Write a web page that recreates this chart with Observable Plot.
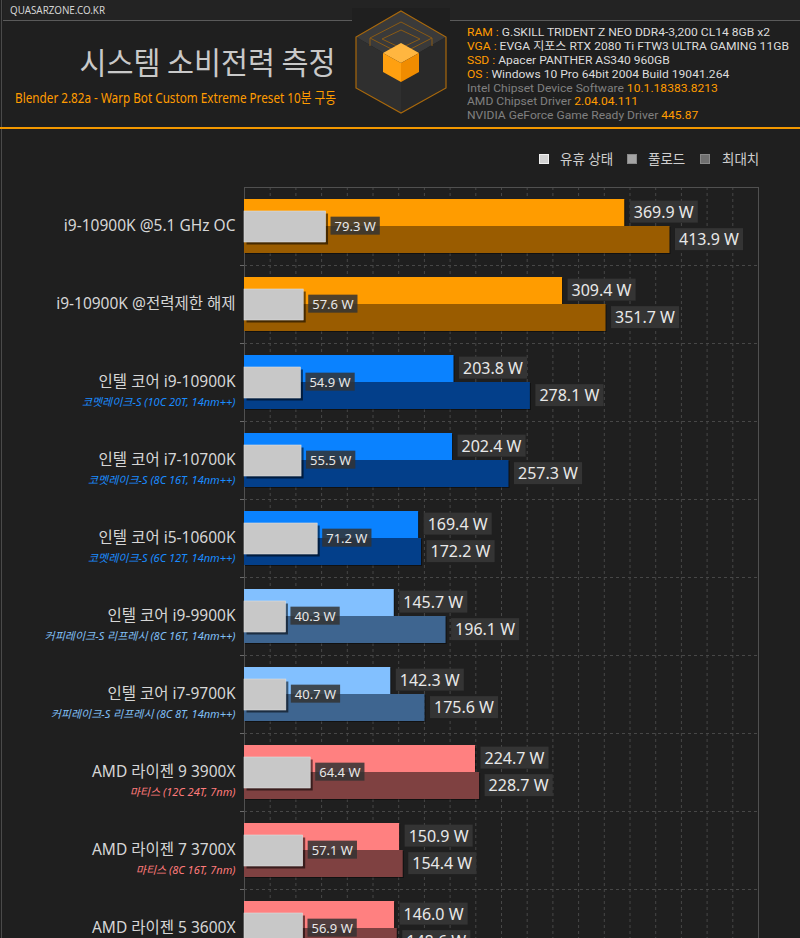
<!DOCTYPE html>
<html><head><meta charset="utf-8">
<script src="https://cdn.jsdelivr.net/npm/d3@7"></script>
<script src="https://cdn.jsdelivr.net/npm/@observablehq/plot@0.6"></script>
<style>
html,body{margin:0;padding:0;background:#1f1f1f;}
#page{position:relative;width:800px;height:938px;overflow:hidden;background:#1f1f1f;font-family:"Noto Sans","Noto Sans CJK KR",sans-serif;}
.abs{position:absolute;white-space:nowrap;}
#strip{left:3px;top:0;width:797px;height:20px;background:#232323;}
#brand{left:10px;top:0;font-size:11px;line-height:20px;color:#d4d4d4;transform-origin:left center;}
#title{right:464px;top:43px;font-size:31px;line-height:36px;color:#c9c9c9;font-weight:400;font-family:"Noto Sans CJK KR","Noto Sans",sans-serif;transform-origin:right center;}
#subtitle{right:464px;top:88px;font-size:15px;line-height:18px;color:#ff9c00;transform-origin:right center;}
#info{left:467px;top:26px;font-size:11.8px;color:#dcdcdc;font-family:Roboto,"Noto Sans CJK KR",sans-serif;}
#info div{height:13.9px;line-height:13.9px;transform-origin:left center;}
#info .k{color:#ff9c00;}
#info .g{color:#808080;}
#info .o{color:#ff9c00;}
#orange{left:0;top:127px;width:800px;height:2px;background:#f39800;}
#leftborder{left:1px;top:0;width:1px;height:938px;background:#4a4a4a;}
.sq{position:absolute;width:10px;height:10px;top:154px;box-sizing:border-box;}
.lt{position:absolute;top:150px;font-size:13.5px;line-height:18px;color:#cfcfcf;}
#chart{position:absolute;left:0;top:175px;}
</style></head><body>
<div id="page">
  <div id="leftborder" class="abs"></div>
  <div id="strip" class="abs"></div>
  <div id="brand" class="abs">QUASARZONE.CO.KR</div>
  <svg class="abs" style="left:0;top:0" width="800" height="130">
    <line x1="3" x2="800" y1="20.5" y2="20.5" stroke="#5a5a5a" stroke-width="1"/>
    <rect x="352" y="8" width="98" height="110" fill="#1f1f1f"/>
    <polygon points="401,11 446,37 401,63 356,37" fill="#3a3a3a"/>
    <polygon points="356,37 401,63 401,113 356,88" fill="#2f2f2f"/>
    <polygon points="446,37 446,88 401,113 401,63" fill="#292929"/>
    <polygon points="401,11 446,37 446,88 401,113 356,88 356,37" fill="none" stroke="#a8680c" stroke-width="1.2"/>
    <polygon points="401,22 432,38 401,54 370,38" fill="none" stroke="#8a5a14" stroke-width="1"/>
    <polygon points="401,30 420,39 401,48 382,39" fill="none" stroke="#8a5a14" stroke-width="1"/>
    <line x1="370" y1="38" x2="370" y2="46" stroke="#8a5a14"/>
    <line x1="432" y1="38" x2="432" y2="46" stroke="#8a5a14"/>
    <polygon points="401,43 419,53 401,63 383,53" fill="#ffb640"/>
    <polygon points="383,53 401,63 401,82 383,72" fill="#ffa010"/>
    <polygon points="419,53 419,72 401,82 401,63" fill="#f08c00"/>
  </svg>
  <div id="title" class="abs">시스템 소비전력 측정</div>
  <div id="subtitle" class="abs">Blender 2.82a - Warp Bot Custom Extreme Preset 10분 구동</div>
  <div id="info" class="abs">
    <div><span class="k">RAM : </span>G.SKILL TRIDENT Z NEO DDR4-3,200 CL14 8GB x2</div>
    <div><span class="k">VGA : </span>EVGA 지포스 RTX 2080 Ti FTW3 ULTRA GAMING 11GB</div>
    <div><span class="k">SSD : </span>Apacer PANTHER AS340 960GB</div>
    <div><span class="k">OS : </span>Windows 10 Pro 64bit 2004 Build 19041.264</div>
    <div><span class="g">Intel Chipset Device Software </span><span class="o">10.1.18383.8213</span></div>
    <div><span class="g">AMD Chipset Driver </span><span class="o">2.04.04.111</span></div>
    <div><span class="g">NVIDIA GeForce Game Ready Driver </span><span class="o">445.87</span></div>
  </div>
  <div id="orange" class="abs"></div>
  <div id="legend"></div>
  <div id="chart"></div>
</div>
<script>
// ---- data ----
const names = [
  "i9-10900K @5.1 GHz OC",
  "i9-10900K @전력제한 해제",
  "인텔 코어 i9-10900K",
  "인텔 코어 i7-10700K",
  "인텔 코어 i5-10600K",
  "인텔 코어 i9-9900K",
  "인텔 코어 i7-9700K",
  "AMD 라이젠 9 3900X",
  "AMD 라이젠 7 3700X",
  "AMD 라이젠 5 3600X"
];
const subs = [
  "",
  "",
  "코멧레이크-S (10C 20T, 14nm++)",
  "코멧레이크-S (8C 16T, 14nm++)",
  "코멧레이크-S (6C 12T, 14nm++)",
  "커피레이크-S 리프레시 (8C 16T, 14nm++)",
  "커피레이크-S 리프레시 (8C 8T, 14nm++)",
  "마티스 (12C 24T, 7nm)",
  "마티스 (8C 16T, 7nm)",
  "마티스 (6C 12T, 7nm)"
];
const groups = ["oc","oc","cml","cml","cml","cfl","cfl","amd","amd","amd"];
const idle = [79.3, 57.6, 54.9, 55.5, 71.2, 40.3, 40.7, 64.4, 57.1, 56.9];
const full = [369.9, 309.4, 203.8, 202.4, 169.4, 145.7, 142.3, 224.7, 150.9, 146.0];
const peak = [413.9, 351.7, 278.1, 257.3, 172.2, 196.1, 175.6, 228.7, 154.4, 148.6];
const groupKeys = ["oc","cml","cfl","amd"];
const fullColors = ["#ff9c00","#0a82ff","#82c0ff","#ff8080"];
const peakColors = ["#9a5c00","#033f8a","#3e6590","#7f4141"];
const subColors = ["#ff9c00","#1a8cff","#80bff5","#ff7b7b"];
const legendLabels = ["유휴 상태","풀로드","최대치"];
const legendColors = ["#d2d2d2","#a4a4a4","#707070"];
const xDomain = [0, 500];
const gridStep = 25;

// ---- header fitting ----
function fitWidth(el, target) {
  const w = el.getBoundingClientRect().width;
  if (w > 0) el.style.transform = `scaleX(${target / w})`;
}
fitWidth(document.getElementById("brand"), 95);
fitWidth(document.getElementById("title"), 256);
fitWidth(document.getElementById("subtitle"), 321);
{
  const lines = document.querySelectorAll("#info div");
  const r = document.createRange(); r.selectNodeContents(lines[0]);
  const w = r.getBoundingClientRect().width;
  const s = 303 / w;
  lines.forEach(l => l.style.transform = `scaleX(${s})`);
}

// ---- build ----
const FONT = '"Noto Sans","Noto Sans CJK KR",sans-serif';
const col = (arr, g) => arr[groupKeys.indexOf(g)];
const rows = names.map((n, i) => ({name: n, sub: subs[i], group: groups[i], idle: idle[i], full: full[i], peak: peak[i]}));
const fmt = v => v.toFixed(1) + " W";
const gridTicks = d3.range(xDomain[0] + gridStep, xDomain[1], gridStep);

// legend (HTML)
const legend = document.getElementById("legend");
const sqX = [539, 627, 700], txX = [560, 648, 722];
legendLabels.forEach((l, i) => {
  const s = document.createElement("div");
  s.className = "sq"; s.style.left = sqX[i] + "px"; s.style.background = legendColors[i];
  s.style.border = "1px solid " + (i === 0 ? "#f0f0f0" : "#8a8a8a");
  legend.appendChild(s);
  const t = document.createElement("div");
  t.className = "lt"; t.style.left = txX[i] + "px"; t.textContent = l;
  legend.appendChild(t);
});

const band = 78;
const chart = Plot.plot({
  width: 800,
  height: 12 + band * names.length + 30,
  marginLeft: 244, marginRight: 42, marginTop: 12, marginBottom: 30,
  x: {domain: xDomain, axis: null},
  y: {domain: names, padding: 0, axis: null},
  color: {type: "identity"},
  style: {background: "transparent", fontFamily: FONT, overflow: "visible"},
  marks: [
    Plot.ruleX(gridTicks, {x: d => d, stroke: "#474747", strokeDasharray: "3,3"}),
    Plot.ruleY(names, {y: d => d, dy: band / 2, stroke: "#474747", strokeDasharray: "3,3"}),
    Plot.ruleY(names, {y: d => d, dy: band / 2, x1: 0, x2: 0, insetLeft: -4, stroke: "#6a6a6a"}),
    Plot.frame({stroke: "#505050"}),
    // full-load
    Plot.barX(rows, {x: "full", y: "name", insetTop: 12, insetBottom: 39, dx: 1, dy: 1, fill: "#000", fillOpacity: 0.45}),
    Plot.barX(rows, {x: "full", y: "name", insetTop: 12, insetBottom: 39, fill: d => col(fullColors, d.group)}),
    // peak
    Plot.barX(rows, {x: "peak", y: "name", insetTop: 39, insetBottom: 12, dx: 1, dy: 1, fill: "#000", fillOpacity: 0.45}),
    Plot.barX(rows, {x: "peak", y: "name", insetTop: 39, insetBottom: 12, fill: d => col(peakColors, d.group)}),
    // idle
    Plot.barX(rows, {x: "idle", y: "name", insetTop: 24, insetBottom: 23, dx: 2.5, dy: 2.5, fill: "#000", fillOpacity: 0.55}),
    Plot.barX(rows, {x: "idle", y: "name", insetTop: 24, insetBottom: 23, fill: "#c8c8c8", stroke: "#dedede", strokeWidth: 0.6}),
    // value labels
    Plot.text(rows, {x: "full", y: "name", text: d => fmt(d.full), dx: 9, dy: -14, textAnchor: "start", fill: "#e8e8e8", fontSize: 16}),
    Plot.text(rows, {x: "peak", y: "name", text: d => fmt(d.peak), dx: 9, dy: 13.5, textAnchor: "start", fill: "#e8e8e8", fontSize: 16}),
    Plot.text(rows, {x: "idle", y: "name", text: d => fmt(d.idle), dx: 8.5, dy: 0, textAnchor: "start", fill: "#e8e8e8", fontSize: 13}),
    // category labels
    Plot.text(rows, {y: "name", text: "name", frameAnchor: "left", dx: -9, textAnchor: "end", fill: "#d6d6d6", fontSize: 15.5}),
    Plot.text(rows.filter(d => d.sub), {y: "name", text: "sub", frameAnchor: "left", dx: -9, dy: 20, textAnchor: "end", fill: d => col(subColors, d.group), fontSize: 11, fontStyle: "italic"})
  ]
});
document.getElementById("chart").appendChild(chart);

// label background boxes
const NS = "http://www.w3.org/2000/svg";
chart.querySelectorAll("text").forEach(t => {
  if (!/\d W$/.test(t.textContent)) return;
  const g = t.parentNode;
  const fs = +(g.getAttribute("font-size") || t.getAttribute("font-size") || 16);
  const b = t.getBBox();
  const r = document.createElementNS(NS, "rect");
  const pad = 4;
  r.setAttribute("x", b.x - pad);
  r.setAttribute("y", b.y);
  r.setAttribute("width", b.width + pad * 2);
  r.setAttribute("height", b.height);
  if (t.getAttribute("transform")) r.setAttribute("transform", t.getAttribute("transform"));
  if (fs < 15) { r.setAttribute("fill", "#333333"); r.setAttribute("fill-opacity", "0.85"); }
  else { r.setAttribute("fill", "#343434"); }
  g.insertBefore(r, t);
});
</script>
</body></html>
